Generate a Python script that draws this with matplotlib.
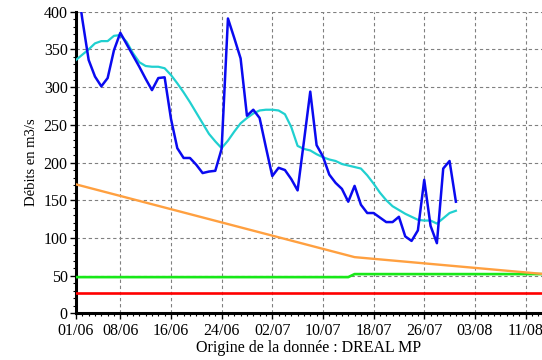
import matplotlib
matplotlib.use("Agg")
import matplotlib.pyplot as plt
from matplotlib.ticker import MultipleLocator, FixedLocator

# Days counted from 01/06
days_obs = list(range(61))

# Observed daily discharge (m3/s)
debit_obs = [450, 390, 336, 314, 301, 312, 349, 372, 357, 342,
             327, 311, 296, 312, 313, 258, 219, 206, 206, 197,
             186, 188, 189, 218, 391, 365, 338, 262, 270, 259,
             220, 182, 193, 190, 178, 163, 228, 294, 223, 208,
             184, 173, 165, 148, 169, 144, 133, 133, 127, 121,
             121, 128, 102, 96, 110, 177, 116, 93, 192, 202,
             148]

# Interannual mean discharge (m3/s)
debit_moyen = [336, 343, 350, 358, 361, 361, 368, 369, 360, 345,
               333, 328, 327, 327, 325, 316, 305, 293, 280, 266,
               252, 238, 228, 219, 229, 241, 252, 259, 265, 269,
               270, 270, 269, 264, 247, 222, 218, 216, 211, 207,
               204, 202, 198, 196, 194, 192, 183, 172, 160, 150,
               142, 137, 132, 128, 124, 123, 123, 119, 126, 133,
               136]

# Objective curve (breakpoints)
days_obj = [0, 44, 74]
debit_obj = [171, 74.5, 52]

# Alert threshold
days_alerte = [0, 43, 44, 74]
debit_alerte = [48, 48, 52, 52]

# Crisis threshold
days_crise = [0, 74]
debit_crise = [27, 27]

tick_days = [0, 7, 15, 23, 31, 39, 47, 55, 63, 71]
tick_labels = ["01/06", "08/06", "16/06", "24/06", "02/07",
               "10/07", "18/07", "26/07", "03/08", "11/08"]

plt.rcParams['font.family'] = ['Liberation Serif', 'DejaVu Serif']

fig = plt.figure(figsize=(5.42, 3.60), dpi=100)
ax = fig.add_axes([0.1402, 0.1297, 1.0 - 0.1402, 0.9675 - 0.1297])

ax.plot(days_crise, debit_crise, color="#ff0000", lw=1.9, zorder=3)
ax.plot(days_alerte, debit_alerte, color="#18e818", lw=1.9, zorder=3)
ax.plot(days_obj, debit_obj, color="#ffa040", lw=1.7, zorder=3)
ax.plot(days_obs, debit_moyen, color="#20d0d0", lw=1.6, zorder=4)
ax.plot(days_obs, debit_obs, color="#0a0af0", lw=1.8, zorder=5)

ax.set_xlim(0, 73.6)
ax.set_ylim(0, 400)

ax.xaxis.set_major_locator(FixedLocator(tick_days))
ax.set_xticklabels(tick_labels)
ax.xaxis.set_minor_locator(MultipleLocator(1))
ax.yaxis.set_major_locator(MultipleLocator(50))
ax.yaxis.set_minor_locator(MultipleLocator(10))

ax.tick_params(axis="x", which="major", length=4, width=1, labelsize=11.5,
               color="black", pad=3)
ax.tick_params(axis="y", which="major", length=4, width=1, labelsize=11.5,
               color="black", pad=2)
ax.tick_params(axis="both", which="minor", length=2, width=0.8, color="black")

ax.grid(True, which="major", color="#808080", linestyle=(0, (3, 2.5)), lw=0.8)
ax.set_axisbelow(True)

for side in ("top", "right"):
    ax.spines[side].set_visible(False)
for side in ("left", "bottom"):
    ax.spines[side].set_linewidth(2.2)
    ax.spines[side].set_color("black")

ax.set_ylabel("Débits en m3/s", fontsize=10.5, labelpad=4)
ax.set_xlabel("Origine de la donnée : DREAL MP", fontsize=11.5, labelpad=1)

fig.savefig("out.png", dpi=100)
